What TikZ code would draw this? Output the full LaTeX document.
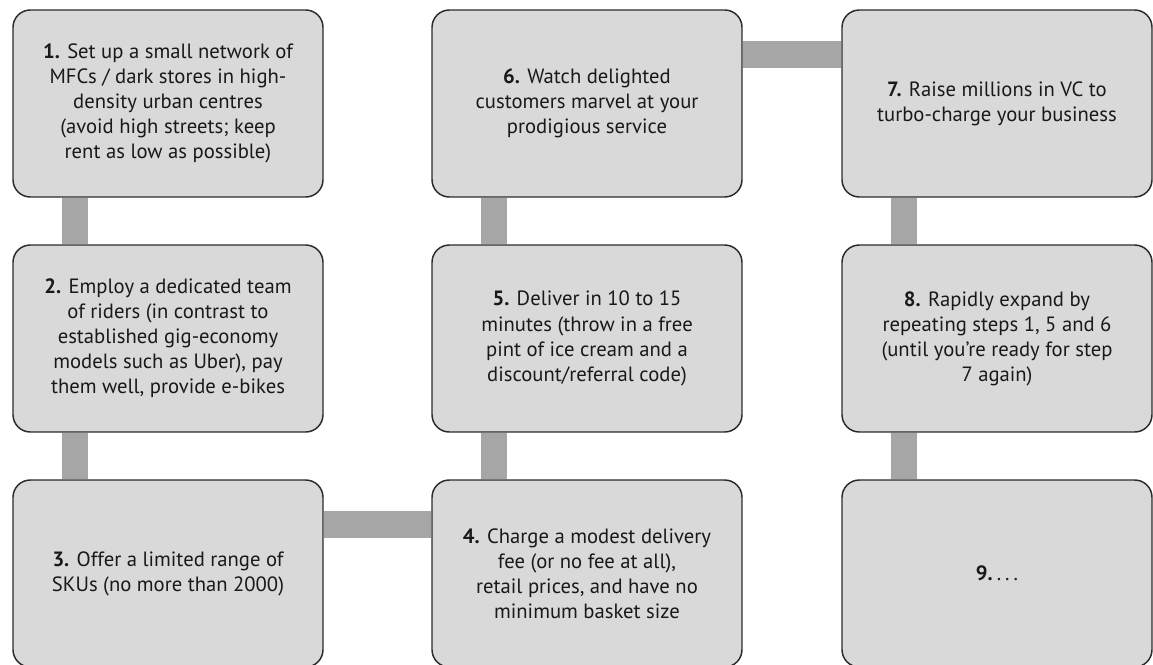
\documentclass[tikz,border=0pt]{standalone}
\usepackage{fontspec}
\setmainfont{PT Sans}
\usepackage{tikz}
\usetikzlibrary{positioning}
\pgfdeclarelayer{edgelayer}
\pgfsetlayers{edgelayer,main}
\definecolor{boxfill}{HTML}{D9D9D9}
\definecolor{boxline}{HTML}{2B2B2B}
\definecolor{barfill}{HTML}{A6A6A6}
\tikzset{font=\fontsize{15.5}{18.8}\selectfont}
\tikzstyle{stepbox}=[draw=boxline,fill=boxfill,rounded corners=13pt,line width=1.1pt,minimum width=232.5pt,minimum height=140.25pt,inner sep=0pt,align=center,text=black!90]
\tikzstyle{bar}=[barfill,line width=20pt]

\begin{document}
\begin{tikzpicture}[x=0.75pt,y=-0.75pt]
\useasboundingbox (0,0) rectangle (1153,664);
\node[stepbox] (s1) at (168,103.5) {\textbf{1.} Set up a small network of\\MFCs / dark stores in high-\\density urban centres\\(avoid high streets; keep\\rent as low as possible)};
\node[stepbox] (s2) at (168,338.5) {\textbf{2.} Employ a dedicated team\\of riders (in contrast to\\established gig-economy\\models such as Uber), pay\\them well, provide e-bikes};
\node[stepbox] (s3) at (168,573.5) {\textbf{3.} Offer a limited range of\\SKUs (no more than 2000)};
\node[stepbox] (s4) at (587,573.5) {\textbf{4.} Charge a modest delivery\\fee (or no fee at all),\\retail prices, and have no\\minimum basket size};
\node[stepbox] (s5) at (587,338.5) {\textbf{5.} Deliver in 10 to 15\\minutes (throw in a free\\pint of ice cream and a\\discount/referral code)};
\node[stepbox] (s6) at (587,103.5) {\textbf{6.} Watch delighted\\customers marvel at your\\prodigious service};
\node[stepbox] (s7) at (997,103.5) {\textbf{7.} Raise millions in VC to\\turbo-charge your business};
\node[stepbox] (s8) at (997,338.5) {\textbf{8.} Rapidly expand by\\repeating steps 1, 5 and 6\\(until you’re ready for step\\7 again)};
\node[stepbox] (s9) at (997,573.5) {\textbf{9.}\hspace{3pt}.\hspace{3pt}.\hspace{3pt}.};
% grey bars behind the boxes
\begin{pgfonlayer}{edgelayer}
\draw[bar] ([xshift=47pt]s1.south west) -- ([xshift=47pt]s2.north west);
\draw[bar] ([xshift=47pt]s2.south west) -- ([xshift=47pt]s3.north west);
\draw[bar] ([yshift=-34pt]s3.north east) -- ([yshift=-34pt]s4.north west);
\draw[bar] ([xshift=47pt]s4.north west) -- ([xshift=47pt]s5.south west);
\draw[bar] ([xshift=47pt]s5.north west) -- ([xshift=47pt]s6.south west);
\draw[bar] ([yshift=-34pt]s6.north east) -- ([yshift=-34pt]s7.north west);
\draw[bar] ([xshift=47pt]s7.south west) -- ([xshift=47pt]s8.north west);
\draw[bar] ([xshift=47pt]s8.south west) -- ([xshift=47pt]s9.north west);
\end{pgfonlayer}
\end{tikzpicture}
\end{document}
